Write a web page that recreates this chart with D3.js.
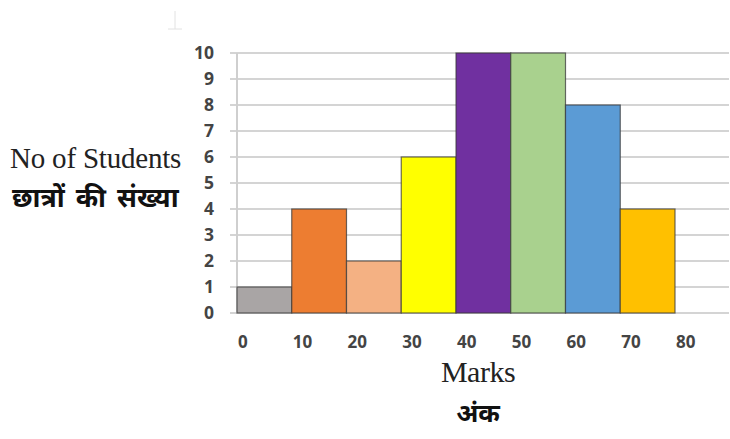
<!DOCTYPE html>
<html><head><meta charset="utf-8">
<script src="https://cdn.jsdelivr.net/npm/d3@7"></script>
<style>body{margin:0;background:#fff}</style>
</head><body>
<svg id="c" width="730" height="439"></svg>
<script>
const binStarts = [0,10,20,30,40,50,60,70];
const counts = [1,4,2,6,10,10,8,4];
const colors = ["#a9a5a5","#ed7d31","#f4b183","#ffff00","#7030a0","#a9d18e","#5b9bd5","#ffc000"];
const xTicks = [0,10,20,30,40,50,60,70,80];
const yTicks = [0,1,2,3,4,5,6,7,8,9,10];

const svg = d3.select("#c");
const x = d3.scaleLinear().domain([0,80]).range([237,675]);
const y = d3.scaleLinear().domain([0,10]).range([313,53]);

// gridlines
svg.append("g").selectAll("line").data(yTicks).join("line")
  .attr("x1",230).attr("x2",729).attr("y1",d=>y(d)).attr("y2",d=>y(d))
  .attr("stroke","#d4d4d4").attr("stroke-width",2);
// y axis line
svg.append("line").attr("x1",237).attr("x2",237).attr("y1",y(10)).attr("y2",y(0))
  .attr("stroke","#cfcfcf").attr("stroke-width",2);

// bars
svg.append("g").selectAll("rect").data(counts).join("rect")
  .attr("x",(d,i)=>x(binStarts[i]))
  .attr("y",d=>y(d))
  .attr("width",(d,i)=>x(binStarts[i]+10)-x(binStarts[i]))
  .attr("height",d=>y(0)-y(d))
  .attr("fill",(d,i)=>colors[i])
  .attr("stroke","#3a3a3a").attr("stroke-opacity",0.75).attr("stroke-width",1.2);

// y labels
svg.append("g").selectAll("text").data(yTicks).join("text")
  .attr("x",214).attr("y",d=>y(d)).attr("dy","0.36em")
  .attr("text-anchor","end").attr("font-family","Open Sans, sans-serif")
  .attr("font-weight",700).attr("font-size",17.5).attr("fill","#444")
  .text(d=>d);

// x labels
svg.append("g").selectAll("text").data(xTicks).join("text")
  .attr("x",d=>x(d)+1).attr("y",348)
  .attr("text-anchor","start").attr("font-family","Open Sans, sans-serif")
  .attr("font-weight",700).attr("font-size",17).attr("fill","#444")
  .text(d=>d);

// axis titles
svg.append("text").attr("x",10).attr("y",168)
  .attr("font-family","Liberation Serif, serif").attr("font-size",29).attr("fill","#222")
  .attr("letter-spacing",-0.2).text("No of Students");
svg.append("text").attr("x",12).attr("y",207)
  .attr("font-family","Noto Sans, sans-serif").attr("font-weight",700).attr("font-size",27).attr("fill","#111")
  .attr("word-spacing",4).text("छात्रों की संख्या");
svg.append("text").attr("x",478).attr("y",382).attr("text-anchor","middle")
  .attr("font-family","Liberation Serif, serif").attr("font-size",30).attr("fill","#222")
  .attr("letter-spacing",-0.5).text("Marks");
svg.append("text").attr("x",478).attr("y",422).attr("text-anchor","middle")
  .attr("font-family","Noto Sans, sans-serif").attr("font-weight",700).attr("font-size",26).attr("fill","#111")
  .text("अंक");

// faint artifact at top
svg.append("line").attr("x1",175).attr("x2",175).attr("y1",11).attr("y2",29).attr("stroke","#e2e2e2");
svg.append("line").attr("x1",168).attr("x2",182).attr("y1",29).attr("y2",29).attr("stroke","#e2e2e2");
</script>
</body></html>
